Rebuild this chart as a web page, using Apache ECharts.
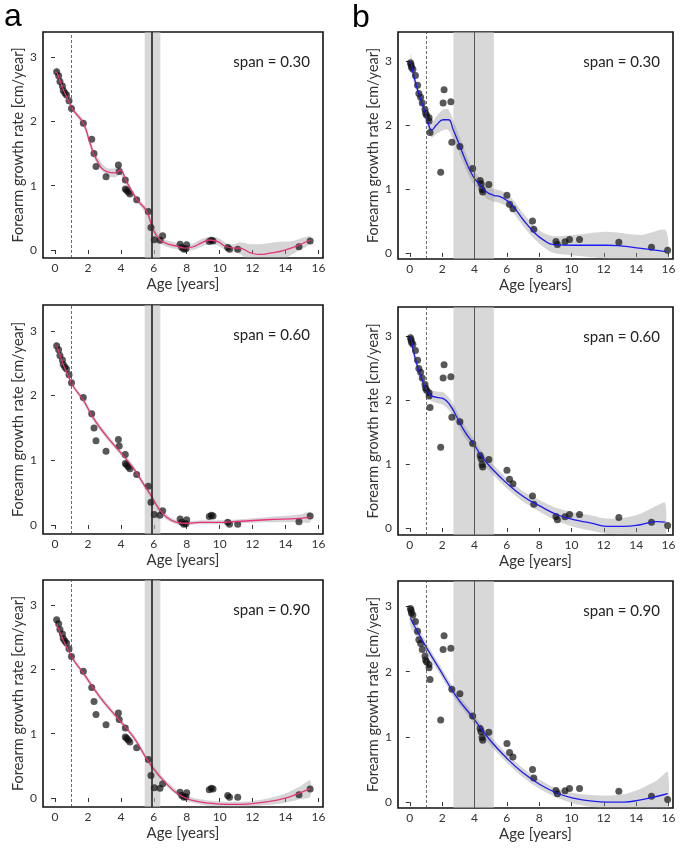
<!DOCTYPE html>
<html><head><meta charset="utf-8">
<script src="https://cdn.jsdelivr.net/npm/echarts@6/dist/echarts.min.js"></script>
<style>html,body{margin:0;padding:0;background:#fff}#c{width:685px;height:849px}</style>
</head><body><div id="c"></div>
<script>
// ---- data ----
const xTicks = [0,2,4,6,8,10,12,14,16];
const yTicks = [0,1,2,3];
const spanLabels = ['span = 0.30','span = 0.60','span = 0.90'];
const pointsA = [[0.1,2.77],[0.22,2.71],[0.3,2.62],[0.45,2.55],[0.5,2.48],[0.6,2.44],[0.7,2.41],[0.85,2.32],[1.0,2.2],[1.72,1.97],[2.23,1.72],[2.37,1.5],[2.49,1.3],[3.1,1.14],[3.85,1.32],[3.9,1.22],[4.27,1.09],[4.27,0.95],[4.35,0.93],[4.45,0.9],[4.55,0.87],[4.96,0.78],[5.67,0.6],[5.83,0.35],[6.03,0.16],[6.38,0.15],[6.54,0.22],[7.6,0.09],[7.7,0.04],[7.83,0.01],[7.95,0.02],[8.0,0.08],[9.37,0.13],[9.5,0.15],[9.6,0.14],[10.49,0.04],[10.6,0.01],[11.1,0.01],[14.82,0.05],[15.5,0.14]];
const pointsB = [[0.04,2.97],[0.08,2.94],[0.1,2.9],[0.19,2.87],[0.35,2.77],[0.48,2.62],[0.56,2.49],[0.67,2.43],[0.77,2.34],[0.94,2.24],[0.98,2.18],[1.04,2.15],[1.19,2.11],[1.19,2.06],[1.25,1.88],[1.91,1.26],[2.06,2.34],[2.12,2.55],[2.54,2.36],[2.6,1.73],[3.1,1.66],[3.89,1.32],[4.35,1.13],[4.41,1.08],[4.47,0.99],[4.51,0.95],[4.89,1.07],[6.01,0.9],[6.17,0.76],[6.38,0.69],[7.59,0.5],[7.67,0.37],[9.04,0.18],[9.13,0.13],[9.6,0.175],[9.88,0.21],[10.5,0.21],[12.93,0.165],[14.95,0.09],[15.95,0.04]];
// loess fits [x, y] and band half-widths
const fitA30 = [[0.1,2.77],[1.0,2.22],[1.72,1.97],[2.13,1.66],[2.53,1.4],[3.14,1.22],[3.64,1.2],[3.95,1.24],[4.35,1.06],[4.96,0.79],[5.57,0.6],[5.97,0.31],[6.38,0.16],[6.78,0.1],[7.39,0.06],[7.9,0.03],[8.4,0.05],[8.9,0.11],[9.4,0.155],[9.9,0.13],[10.4,0.05],[10.9,0.03],[11.2,0.03],[11.84,-0.04],[12.45,-0.07],[13.06,-0.05],[13.87,-0.01],[14.47,0.04],[15.5,0.155]];
const bandA30 = [0.07,0.04,0.05,0.06,0.06,0.06,0.07,0.07,0.05,0.04,0.05,0.05,0.05,0.05,0.05,0.04,0.05,0.06,0.05,0.06,0.06,0.06,0.09,0.13,0.16,0.16,0.14,0.1,0.06];
const fitA60 = [[0.1,2.77],[1.0,2.19],[1.72,1.93],[2.33,1.65],[3.14,1.37],[3.95,1.13],[4.76,0.88],[5.36,0.64],[5.87,0.44],[6.28,0.26],[6.78,0.12],[7.39,0.04],[8.0,0.026],[8.8,0.04],[9.8,0.04],[10.83,0.05],[12.85,0.08],[14.88,0.1],[15.5,0.12]];
const bandA60 = [0.05,0.03,0.04,0.04,0.04,0.04,0.04,0.04,0.04,0.04,0.04,0.03,0.03,0.03,0.03,0.03,0.04,0.06,0.08];
const fitA90 = [[0.1,2.7],[1.0,2.2],[1.72,1.94],[2.73,1.57],[3.74,1.26],[4.76,0.95],[5.77,0.53],[6.78,0.22],[7.8,0.015],[8.8,-0.06],[9.82,-0.09],[10.83,-0.1],[11.84,-0.09],[12.85,-0.06],[13.87,-0.01],[14.88,0.08],[15.5,0.145]];
const bandA90 = [0.07,0.04,0.04,0.04,0.04,0.04,0.04,0.04,0.04,0.04,0.04,0.04,0.04,0.05,0.07,0.1,0.13];
const fitB30 = [[0.06,2.99],[0.31,2.7],[0.62,2.44],[0.93,2.21],[1.14,2.02],[1.35,1.92],[1.66,2.0],[2.07,2.08],[2.38,2.08],[2.69,1.92],[3.11,1.66],[3.52,1.4],[3.93,1.19],[4.35,1.06],[4.76,0.95],[5.18,0.9],[5.59,0.88],[6.0,0.82],[6.42,0.72],[7.04,0.51],[7.66,0.33],[8.28,0.2],[8.9,0.13],[10.14,0.12],[12.2,0.12],[14.3,0.07],[15.84,0.02]];
const bandB30 = [0.12,0.08,0.07,0.08,0.1,0.12,0.14,0.16,0.16,0.15,0.13,0.12,0.11,0.1,0.1,0.1,0.1,0.1,0.1,0.1,0.1,0.11,0.13,0.16,0.21,0.21,0.33];
const fitB60 = [[0.06,2.98],[0.31,2.67],[0.62,2.41],[0.93,2.21],[1.24,2.08],[1.65,2.04],[2.07,2.02],[2.48,1.92],[2.89,1.74],[3.41,1.5],[3.93,1.32],[4.44,1.12],[4.96,0.96],[5.99,0.7],[7.02,0.49],[8.06,0.34],[9.09,0.21],[10.12,0.13],[11.16,0.08],[12.19,0.026],[13.2,0.026],[14.26,0.05],[15.29,0.1],[15.8,0.09]];
const bandB60 = [0.1,0.07,0.06,0.07,0.08,0.09,0.1,0.1,0.1,0.09,0.08,0.08,0.08,0.08,0.08,0.09,0.1,0.11,0.12,0.12,0.13,0.17,0.25,0.3];
const fitB90 = [[0.04,2.82],[0.77,2.48],[1.81,2.05],[2.85,1.63],[3.89,1.3],[4.93,0.96],[5.97,0.68],[7.0,0.45],[8.05,0.27],[9.09,0.14],[10.12,0.06],[11.16,0.02],[12.2,0.0],[13.24,0.0],[14.28,0.036],[15.32,0.09],[15.95,0.13]];
const bandB90 = [0.12,0.08,0.07,0.07,0.07,0.07,0.07,0.07,0.07,0.07,0.08,0.09,0.1,0.12,0.17,0.25,0.33];
const refLineA = 5.9, refBandA = [5.45, 6.4];
const refLineB = 4.0, refBandB = [2.7, 5.2];
const dashedX = 1;

// ---- layout ----
const panels = [
  {pts:pointsA, fit:fitA30, band:bandA30, col:'#e8337a', grid:{left:43,top:32,width:280,height:226}, y:[-0.125,3.39], line:refLineA, rb:refBandA, lc:'#222', lw:1.6, span:0},
  {pts:pointsB, fit:fitB30, band:bandB30, col:'#1c1cf0', grid:{left:398,top:32,width:275,height:227}, y:[-0.095,3.45], line:refLineB, rb:refBandB, lc:'#555', lw:1, span:0},
  {pts:pointsA, fit:fitA60, band:bandA60, col:'#e8337a', grid:{left:43,top:305,width:280,height:229}, y:[-0.14,3.4], line:refLineA, rb:refBandA, lc:'#222', lw:1.6, span:1},
  {pts:pointsB, fit:fitB60, band:bandB60, col:'#1c1cf0', grid:{left:398,top:307,width:275,height:228}, y:[-0.11,3.45], line:refLineB, rb:refBandB, lc:'#555', lw:1, span:1},
  {pts:pointsA, fit:fitA90, band:bandA90, col:'#e8337a', grid:{left:43,top:580,width:280,height:227}, y:[-0.14,3.39], line:refLineA, rb:refBandA, lc:'#222', lw:1.6, span:2},
  {pts:pointsB, fit:fitB90, band:bandB90, col:'#1c1cf0', grid:{left:398,top:581,width:275,height:227}, y:[-0.09,3.39], line:refLineB, rb:refBandB, lc:'#555', lw:1, span:2}
];
const FONT = 'Lato, "Open Sans", sans-serif';
const grids=[], xAxes=[], yAxes=[], series=[], graphics=[];
panels.forEach((p,i)=>{
  grids.push(Object.assign({show:true, borderColor:'#111', borderWidth:1.6, backgroundColor:'#fff', containLabel:false}, p.grid));
  xAxes.push({type:'value', gridIndex:i, min:-0.73, max:16.28, name:'Age [years]', nameLocation:'middle', nameGap:19,
    nameTextStyle:{fontFamily:FONT, fontSize:15, color:'#333'},
    axisLine:{show:false}, splitLine:{show:false},
    axisTick:{show:true, customValues:xTicks, length:4, lineStyle:{color:'#333'}},
    axisLabel:{customValues:xTicks, fontFamily:FONT, fontSize:12, color:'#333', margin:4}});
  yAxes.push({type:'value', gridIndex:i, min:p.y[0], max:p.y[1], name:'Forearm growth rate [cm/year]', nameLocation:'middle', nameGap:16,
    nameTextStyle:{fontFamily:FONT, fontSize:14.5, color:'#333'},
    axisLine:{show:false}, splitLine:{show:false},
    axisTick:{show:true, customValues:yTicks, length:4, lineStyle:{color:'#333'}},
    axisLabel:{customValues:yTicks, fontFamily:FONT, fontSize:12, color:'#333', margin:6}});
  const upper = p.fit.map((d,k)=>[d[0], d[1]+p.band[k]]);
  const lower = p.fit.map((d,k)=>[d[0], d[1]-p.band[k]]);
  series.push({type:'custom', xAxisIndex:i, yAxisIndex:i, data:[[p.fit[0][0], p.fit[0][1]]], encode:{x:0,y:1}, silent:true, z:2,
    renderItem:function(params, api){
      const cs = params.coordSys;
      const up = upper.map(d=>api.coord(d));
      const lo = lower.map(d=>api.coord(d));
      return {type:'group', clipPath:{type:'rect', shape:{x:cs.x, y:cs.y, width:cs.width, height:cs.height}}, children:[
        {type:'polygon', shape:{points:up.concat(lo.reverse()), smooth:0.25}, style:{fill:'rgba(150,150,150,0.4)'}}]};
    },
    markArea:{silent:true, itemStyle:{color:'rgba(190,190,190,0.6)'}, data:[[{xAxis:p.rb[0]},{xAxis:p.rb[1]}]]},
    markLine:{silent:true, symbol:'none', label:{show:false}, data:[
      {xAxis:dashedX, lineStyle:{color:'#444', type:[3,2], width:0.8}},
      {xAxis:p.line, lineStyle:{color:p.lc, type:'solid', width:p.lw}}]}});
  series.push({type:'scatter', xAxisIndex:i, yAxisIndex:i, data:p.pts, symbolSize:7, itemStyle:{color:'rgba(10,10,10,0.85)'}, z:3});
  series.push({type:'line', xAxisIndex:i, yAxisIndex:i, data:p.fit, smooth:true, symbol:'none', lineStyle:{color:p.col, width:1.3}, z:4});
  graphics.push({type:'text', style:{text:spanLabels[p.span], x:p.grid.left+p.grid.width-13, y:p.grid.top+30, align:'right', verticalAlign:'middle', font:'15px '+FONT, fill:'#222'}, z:10});
});
graphics.push({type:'text', style:{text:'a', x:4, y:17, verticalAlign:'middle', font:'32px "Liberation Sans", Arial, sans-serif', fill:'#000'}});
graphics.push({type:'text', style:{text:'b', x:352, y:18, verticalAlign:'middle', font:'32px "Liberation Sans", Arial, sans-serif', fill:'#000'}});

const chart = echarts.init(document.getElementById('c'), null, {renderer:'canvas'});
chart.setOption({animation:false, backgroundColor:'#fff', grid:grids, xAxis:xAxes, yAxis:yAxes, series:series, graphic:graphics});
</script></body></html>
